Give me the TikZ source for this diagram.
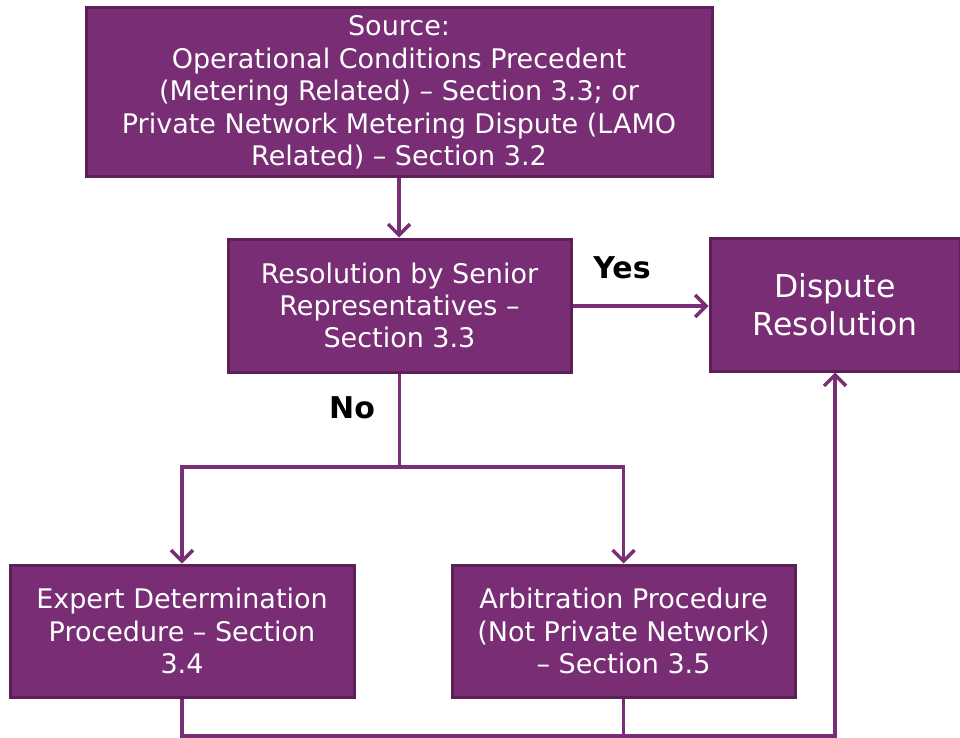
\documentclass[tikz,border=0pt]{standalone}
\usepackage{fontspec}
\setmainfont{DejaVu Sans}
\usetikzlibrary{arrows.meta}
\definecolor{boxfill}{HTML}{782D74}
\definecolor{boxline}{HTML}{5C1F58}
\definecolor{conn}{HTML}{7A2E76}
\begin{document}
\begin{tikzpicture}[x=1pt,y=-1pt,
  pbox/.style={draw=boxline, line width=3pt, fill=boxfill, text=white, align=center, inner sep=0pt,
    font=\fontsize{27}{32.4}\selectfont},
  conn/.style={draw=conn, line width=3.5pt},
  arr/.style={conn, -{Straight Barb[length=11pt,width=22pt,line width=3.5pt]}},
  lbl/.style={font=\fontsize{30}{34}\selectfont\bfseries, text=black}]
\useasboundingbox (0,0) rectangle (960,738);
\node[pbox, minimum width=626pt, minimum height=169pt] (src) at (399,92.5)
  {Source:\\Operational Conditions Precedent\\(Metering Related) – Section 3.3; or\\Private Network Metering Dispute (LAMO\\Related) – Section 3.2};
\node[pbox, minimum width=343pt, minimum height=133pt] (res) at (399.5,305.5)
  {Resolution by Senior\\Representatives –\\Section 3.3};
\node[pbox, minimum width=250pt, minimum height=133pt, font=\fontsize{31.5}{38}\selectfont] (disp) at (835,304.5)
  {Dispute\\Resolution};
\node[pbox, minimum width=344pt, minimum height=132pt] (exp) at (182,631)
  {Expert Determination\\Procedure – Section\\3.4};
\node[pbox, minimum width=343pt, minimum height=132pt] (arb) at (623.5,631)
  {Arbitration Procedure\\(Not Private Network)\\– Section 3.5};
\coordinate (split) at (399.5,467);
\coordinate (bot) at (0,736);
\draw[arr] (src) -- (src.south |- res.north);
\draw[arr] (res.east |- 0,306) -- (disp.west |- 0,306);
\node[lbl] (yes) at (622,268) {Yes};
\node[lbl] (no) at (352,408) {No};
\draw[conn] (res.south) -- (split);
\draw[arr] (split) -| (exp.north);
\draw[arr] (split) -| (arb.north);
\draw[conn] (exp.south) -- (exp.south |- bot) -- (arb.south |- bot);
\draw[conn] (arb.south) -- (arb.south |- bot);
\draw[arr] (arb.south |- bot) -| (disp.south);
\end{tikzpicture}
\end{document}
